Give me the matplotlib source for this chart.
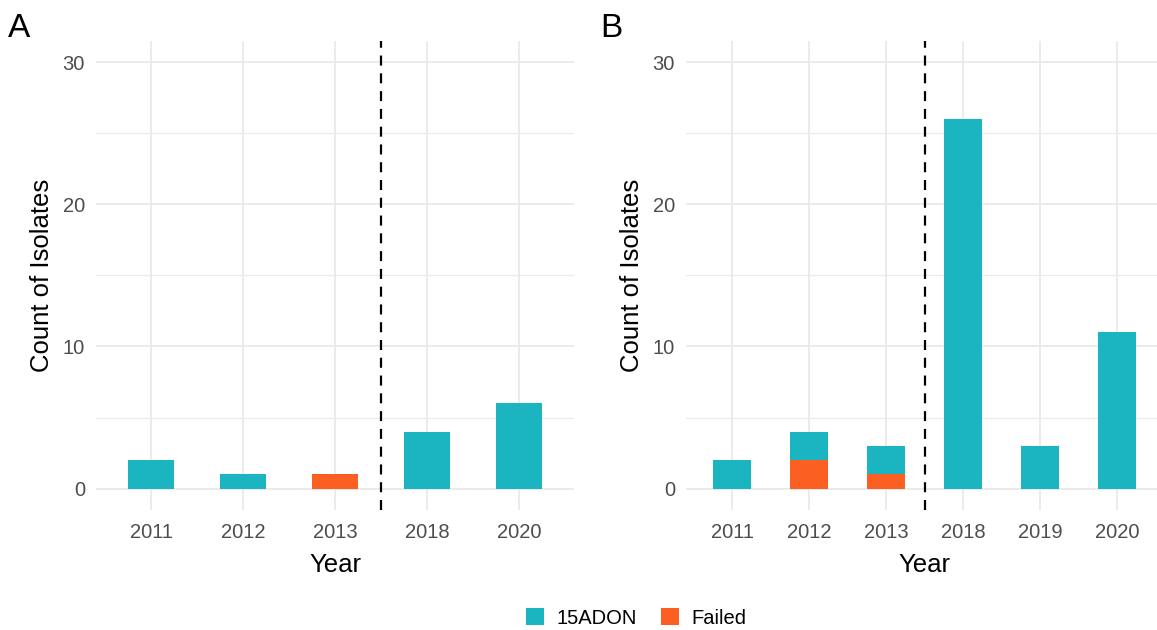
import matplotlib
matplotlib.use("Agg")
import matplotlib.pyplot as plt
from matplotlib.patches import Patch

plt.rcParams["font.family"] = ["Liberation Sans", "DejaVu Sans"]

# isolate counts per year, split by chemotype call
years_a = ["2011", "2012", "2013", "2018", "2020"]
adon_a = [2, 1, 0, 4, 6]
failed_a = [0, 0, 1, 0, 0]

years_b = ["2011", "2012", "2013", "2018", "2019", "2020"]
adon_b = [2, 2, 2, 26, 3, 11]
failed_b = [0, 2, 1, 0, 0, 0]

series_names = ["15ADON", "Failed"]
TEAL = "#1AB5C0"
ORANGE = "#FC5F22"
GRID = "#EBEBEB"
TICK = "#4D4D4D"

W, H = 1157, 630


def panel(ax, years, adon, failed, split_after):
    x = list(range(1, len(years) + 1))
    ax.bar(x, failed, width=0.5, color=ORANGE, linewidth=0, zorder=3)
    ax.bar(x, adon, width=0.5, bottom=failed, color=TEAL, linewidth=0, zorder=3)
    ax.axvline(split_after + 0.5, color="black", lw=1.6,
               linestyle=(0, (4.5, 3.5)), zorder=4)

    ax.set_xlim(0.4, len(years) + 0.6)
    ax.set_ylim(-1.5, 31.5)
    ax.set_xticks(x)
    ax.set_xticklabels(years)
    ax.set_yticks([0, 10, 20, 30])
    ax.set_yticks([5, 15, 25], minor=True)
    ax.grid(True, which="major", color=GRID, lw=1.4, zorder=0)
    ax.grid(True, which="minor", axis="y", color=GRID, lw=0.8, zorder=0)
    ax.tick_params(which="both", length=0, labelsize=14.5, colors=TICK)
    ax.tick_params(axis="x", pad=9)
    ax.tick_params(axis="y", pad=8)
    for s in ax.spines.values():
        s.set_visible(False)
    ax.set_xlabel("Year", fontsize=18.5, labelpad=8)
    ax.set_ylabel("Count of Isolates", fontsize=18.5, labelpad=6)


fig = plt.figure(figsize=(W / 100, H / 100), dpi=100)
bottom = (H - 510) / H
height = (510 - 40.7) / H
ax_a = fig.add_axes([96 / W, bottom, 478 / W, height])
ax_b = fig.add_axes([686 / W, bottom, 477 / W, height])

panel(ax_a, years_a, adon_a, failed_a, split_after=3)
panel(ax_b, years_b, adon_b, failed_b, split_after=3)

fig.text(8 / W, 1 - 37 / H, "A", fontsize=24, ha="left", va="baseline")
fig.text(600 / W, 1 - 37 / H, "B", fontsize=24, ha="left", va="baseline")

handles = [Patch(facecolor=TEAL), Patch(facecolor=ORANGE)]
fig.legend(handles, series_names, loc="center", ncol=2, frameon=False,
           bbox_to_anchor=(636 / W, 12 / H), fontsize=14.5,
           handlelength=0.9, handleheight=0.9, handletextpad=0.6,
           columnspacing=1.2)

fig.savefig("out.png", dpi=100)
